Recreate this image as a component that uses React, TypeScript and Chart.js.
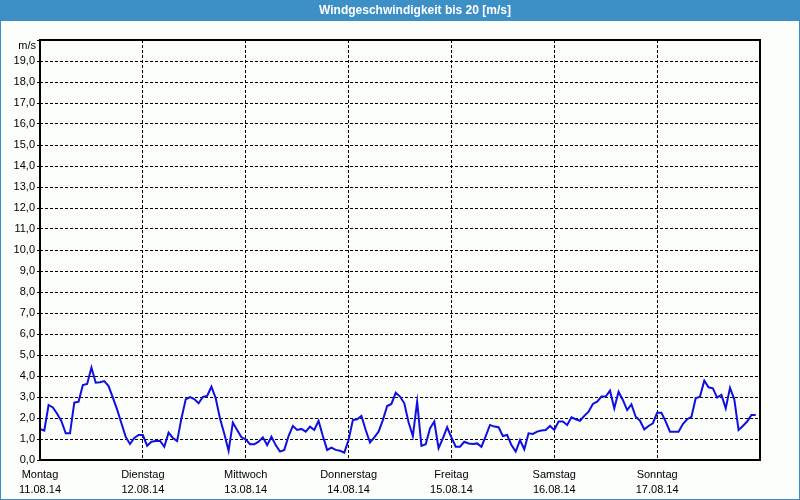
import { useEffect, useRef } from 'react';
import { Chart, registerables } from 'chart.js';

Chart.register(...registerables);

const chartTitle = 'Windgeschwindigkeit bis 20 [m/s]';
const unitLabel = 'm/s';
const dayNames = ['Montag', 'Dienstag', 'Mittwoch', 'Donnerstag', 'Freitag', 'Samstag', 'Sonntag'];
const dayDates = ['11.08.14', '12.08.14', '13.08.14', '14.08.14', '15.08.14', '16.08.14', '17.08.14'];

// hourly wind speed in m/s, 11.08.14 00:00 .. 17.08.14 23:00
const windSpeed = [
  1.48, 1.4, 2.62, 2.5, 2.2, 1.85, 1.27, 1.27, 2.73, 2.78, 3.57, 3.62, 4.4, 3.68, 3.7, 3.76, 3.52, 2.97, 2.4, 1.75, 1.1, 0.76, 1.05, 1.19,
  1.19, 0.68, 0.87, 0.9, 0.92, 0.63, 1.3, 1.05, 0.9, 1.98, 2.89, 3.0, 2.9, 2.7, 3.0, 3.05, 3.49, 2.94, 1.98, 1.25, 0.44, 1.78, 1.43, 1.08,
  0.98, 0.75, 0.75, 0.87, 1.08, 0.71, 1.11, 0.71, 0.4, 0.48, 1.14, 1.62, 1.43, 1.48, 1.35, 1.59, 1.43, 1.86, 1.14, 0.48, 0.59, 0.48, 0.44, 0.35,
  0.95, 1.9, 1.94, 2.1, 1.43, 0.83, 1.08, 1.35, 1.9, 2.57, 2.67, 3.2, 3.02, 2.7, 1.8, 1.14, 2.78, 0.67, 0.75, 1.5, 1.83, 0.56, 1.03, 1.56,
  1.08, 0.63, 0.63, 0.87, 0.79, 0.76, 0.79, 0.63, 1.14, 1.67, 1.59, 1.56, 1.14, 1.19, 0.71, 0.4, 0.95, 0.51, 1.27, 1.24, 1.35, 1.4, 1.43, 1.62,
  1.43, 1.83, 1.83, 1.67, 2.03, 1.94, 1.87, 2.1, 2.3, 2.67, 2.78, 3.02, 3.02, 3.3, 2.46, 3.25, 2.86, 2.38, 2.65, 2.06, 1.87, 1.46, 1.62, 1.75,
  2.25, 2.25, 1.83, 1.35, 1.35, 1.35, 1.71, 1.94, 2.06, 2.94, 3.02, 3.78, 3.46, 3.41, 2.97, 3.1, 2.46, 3.44, 2.89, 1.43, 1.62, 1.83, 2.14, 2.14,
];

const yMax = 20;
const hoursPerDay = 24;
const totalHours = dayNames.length * hoursPerDay;

const FONT = 'Liberation Sans';
const BAR_BLUE = '#3d90c6';
const BG = '#fcfefc';

const framePlugin = {
  id: 'framePlugin',
  beforeDraw(chart: any) {
    const { ctx, width } = chart;
    ctx.save();
    ctx.fillStyle = BG;
    ctx.fillRect(0, 0, width, chart.height);
    ctx.fillStyle = BAR_BLUE;
    ctx.fillRect(0, 0, width, 21);
    ctx.restore();
  },
  afterDraw(chart: any) {
    const { ctx, width, height, chartArea } = chart;
    ctx.save();
    // title
    ctx.fillStyle = '#ffffff';
    ctx.font = `bold 12px "${FONT}"`;
    ctx.textAlign = 'center';
    ctx.textBaseline = 'middle';
    ctx.fillText(chartTitle, 415, 11);
    // unit label
    ctx.fillStyle = '#000000';
    ctx.font = `11px "${FONT}"`;
    ctx.textAlign = 'right';
    ctx.fillText(unitLabel, chartArea.left - 4, chartArea.top + 6);
    // plot frame
    ctx.strokeStyle = '#000000';
    ctx.lineWidth = 2;
    ctx.setLineDash([]);
    ctx.strokeRect(chartArea.left, chartArea.top, chartArea.right - chartArea.left, chartArea.bottom - chartArea.top);
    // outer border
    ctx.strokeStyle = BAR_BLUE;
    ctx.lineWidth = 1;
    ctx.strokeRect(0.5, 0.5, width - 1, height - 1);
    ctx.restore();
  },
};

export default function App() {
  const canvasRef = useRef<HTMLCanvasElement | null>(null);

  useEffect(() => {
    if (!canvasRef.current) return;
    Chart.defaults.font.family = FONT;
    Chart.defaults.font.size = 11;
    Chart.defaults.color = '#000000';

    const chart = new Chart(canvasRef.current, {
      type: 'line',
      data: {
        datasets: [
          {
            data: windSpeed.map((v, i) => ({ x: i, y: v })),
            borderColor: 'rgb(15,15,225)',
            borderWidth: 2,
            pointRadius: 0,
            tension: 0,
            fill: false,
          },
        ],
      },
      options: {
        animation: false,
        responsive: false,
        events: [],
        layout: { padding: { left: 0, right: 40, top: 40, bottom: 0 } },
        plugins: {
          legend: { display: false },
          title: { display: false },
          tooltip: { enabled: false },
        },
        scales: {
          x: {
            type: 'linear',
            min: 0,
            max: totalHours,
            afterFit: (scale: any) => {
              scale.height = 40;
            },
            afterBuildTicks: (scale: any) => {
              scale.ticks = dayNames.map((_, i) => ({ value: i * hoursPerDay }));
            },
            ticks: {
              stepSize: hoursPerDay,
              autoSkip: false,
              maxRotation: 0,
              padding: 8,
              font: { size: 11, family: FONT, lineHeight: 1.35 },
              color: '#000000',
              callback: (v: any) => {
                const i = Math.round(Number(v) / hoursPerDay);
                return i < dayNames.length ? [dayNames[i], dayDates[i]] : '';
              },
            },
            grid: {
              color: '#000000',
              lineWidth: 1,
              drawTicks: false,
            },
            border: { display: false, dash: [3, 2] },
          },
          y: {
            type: 'linear',
            min: 0,
            max: yMax,
            afterFit: (scale: any) => {
              scale.width = 40;
            },
            ticks: {
              stepSize: 1,
              padding: 2,
              font: { size: 11, family: FONT },
              color: '#000000',
              callback: (v: any) => (Number(v) >= yMax ? '' : Number(v).toFixed(1).replace('.', ',')),
            },
            grid: {
              color: '#000000',
              lineWidth: 1,
              tickLength: 3,
            },
            border: { display: false, dash: [3, 2] },
          },
        },
      },
      plugins: [framePlugin],
    });
    return () => chart.destroy();
  }, []);

  return (
    <div style={{ position: 'absolute', left: 0, top: 0, width: 800, height: 500 }}>
      <canvas ref={canvasRef} width={800} height={500} />
    </div>
  );
}
